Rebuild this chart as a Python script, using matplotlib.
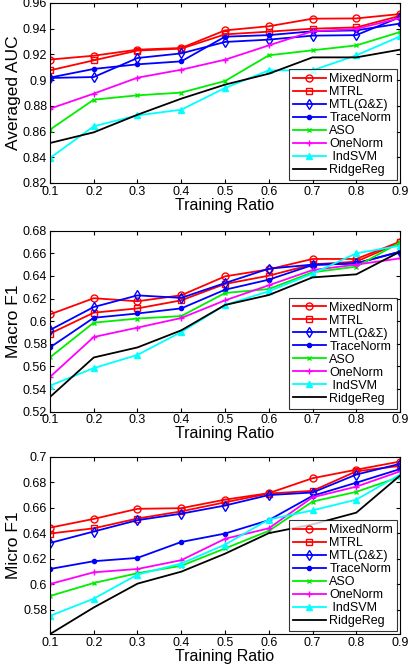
import matplotlib
matplotlib.use("Agg")
import matplotlib.pyplot as plt
from matplotlib.ticker import FormatStrFormatter

plt.rcParams['font.family'] = ['Liberation Sans', 'DejaVu Sans']

ratio = [0.1, 0.2, 0.3, 0.4, 0.5, 0.6, 0.7, 0.8, 0.9]
methods = ['MixedNorm', 'MTRL', 'MTL(Ω&Σ)', 'TraceNorm', 'ASO', 'OneNorm', ' IndSVM', 'RidgeReg']

auc = {
    'MixedNorm': [0.916, 0.919, 0.9237, 0.925, 0.9387, 0.9419, 0.9478, 0.948, 0.9514],
    'MTRL':      [0.9076, 0.9154, 0.923, 0.9245, 0.9356, 0.9377, 0.940, 0.941, 0.950],
    'MTL':       [0.9017, 0.9024, 0.9172, 0.9208, 0.9297, 0.9315, 0.9346, 0.935, 0.949],
    'TraceNorm': [0.902, 0.9087, 0.9123, 0.9146, 0.9338, 0.935, 0.938, 0.9387, 0.944],
    'ASO':       [0.8615, 0.8848, 0.8882, 0.8903, 0.8993, 0.9193, 0.9232, 0.927, 0.9374],
    'OneNorm':   [0.8778, 0.8895, 0.9019, 0.9081, 0.9159, 0.927, 0.938, 0.9398, 0.9483],
    'IndSVM':    [0.8394, 0.8641, 0.8726, 0.877, 0.8939, 0.9076, 0.9076, 0.9193, 0.934],
    'RidgeReg':  [0.8511, 0.8594, 0.8731, 0.8856, 0.8965, 0.905, 0.9177, 0.9177, 0.9237],
}

macro_f1 = {
    'MixedNorm': [0.606, 0.6203, 0.6176, 0.6229, 0.6396, 0.6458, 0.655, 0.655, 0.6703],
    'MTRL':      [0.589, 0.6075, 0.6113, 0.6184, 0.6329, 0.6402, 0.6502, 0.6526, 0.6697],
    'MTL':       [0.5922, 0.6125, 0.6228, 0.6206, 0.6337, 0.6464, 0.650, 0.6511, 0.6614],
    'TraceNorm': [0.5768, 0.603, 0.6068, 0.6113, 0.6278, 0.6367, 0.6496, 0.6511, 0.6614],
    'ASO':       [0.568, 0.5987, 0.6023, 0.6045, 0.6249, 0.6284, 0.6432, 0.6482, 0.6697],
    'OneNorm':   [0.5507, 0.586, 0.5943, 0.6028, 0.6184, 0.6317, 0.6452, 0.650, 0.6555],
    'IndSVM':    [0.543, 0.5585, 0.5702, 0.5904, 0.6143, 0.6264, 0.642, 0.660, 0.6667],
    'RidgeReg':  [0.533, 0.5679, 0.5768, 0.5919, 0.6143, 0.6231, 0.6387, 0.6414, 0.6614],
}

micro_f1 = {
    'MixedNorm': [0.6443, 0.6512, 0.6591, 0.6596, 0.6663, 0.6714, 0.6831, 0.6898, 0.6962],
    'MTRL':      [0.6397, 0.6438, 0.6515, 0.6571, 0.6642, 0.6711, 0.6732, 0.6885, 0.6928],
    'MTL':       [0.6323, 0.6413, 0.6502, 0.6553, 0.6617, 0.6699, 0.6719, 0.686, 0.6944],
    'TraceNorm': [0.6119, 0.618, 0.6206, 0.6331, 0.6397, 0.6502, 0.6693, 0.6796, 0.6903],
    'ASO':       [0.5907, 0.6009, 0.6086, 0.6144, 0.628, 0.6418, 0.6648, 0.6724, 0.6842],
    'OneNorm':   [0.6001, 0.6093, 0.6119, 0.6188, 0.6356, 0.6438, 0.6681, 0.6765, 0.6885],
    'IndSVM':    [0.5751, 0.5886, 0.6075, 0.6162, 0.631, 0.6507, 0.6579, 0.6663, 0.686],
    'RidgeReg':  [0.5608, 0.5817, 0.6004, 0.6098, 0.6239, 0.640, 0.6469, 0.6561, 0.6852],
}

keys = ['MixedNorm', 'MTRL', 'MTL', 'TraceNorm', 'ASO', 'OneNorm', 'IndSVM', 'RidgeReg']
styles = [
    dict(color='#ff0000', marker='o', ms=5, mfc='none'),
    dict(color='#ff0000', marker='s', ms=4, mfc='none'),
    dict(color='#0000ff', marker='d', ms=5, mfc='none'),
    dict(color='#0000ff', marker='.', ms=6),
    dict(color='#00ee00', marker='x', ms=3),
    dict(color='#ff00ff', marker='+', ms=5),
    dict(color='#00ffff', marker='^', ms=5),
    dict(color='#000000', marker=None),
]

fig = plt.figure(figsize=(4.08, 6.64), dpi=100)

panels = [
    (auc, 'Averaged AUC', [0.7244, 0.2711], (0.82, 0.96), [0.82, 0.84, 0.86, 0.88, 0.90, 0.92, 0.94, 0.96]),
    (macro_f1, 'Macro F1', [0.380, 0.2726], (0.52, 0.68), [0.52, 0.54, 0.56, 0.58, 0.60, 0.62, 0.64, 0.66, 0.68]),
    (micro_f1, 'Micro F1', [0.045, 0.2672], (0.5608, 0.70), [0.58, 0.60, 0.62, 0.64, 0.66, 0.68, 0.70]),
]

for data, ylab, (b, h), ylim, yticks in panels:
    ax = fig.add_axes([0.1225, b, 0.858, h])
    for k, name, st in zip(keys, methods, styles):
        ax.plot(ratio, data[k], label=name, lw=1.3, mew=1.0, **st)
    ax.set_xlim(0.1, 0.9)
    ax.set_ylim(*ylim)
    ax.set_xticks(ratio)
    ax.set_yticks(yticks)
    ax.xaxis.set_major_formatter(FormatStrFormatter('%g'))
    ax.yaxis.set_major_formatter(FormatStrFormatter('%g'))
    ax.tick_params(direction='in', top=True, right=True, labelsize=9, length=3, pad=2)
    ax.set_xlabel('Training Ratio', fontsize=11.5, labelpad=0)
    ax.set_ylabel(ylab, fontsize=12.5, labelpad=1)
    leg = ax.legend(loc='lower right', fontsize=9, fancybox=False, edgecolor='black',
                    borderaxespad=0.25, handlelength=2.6, handletextpad=0.3,
                    labelspacing=0.08, borderpad=0.3)
    leg.get_frame().set_linewidth(0.8)

fig.savefig('out.png', dpi=100)
